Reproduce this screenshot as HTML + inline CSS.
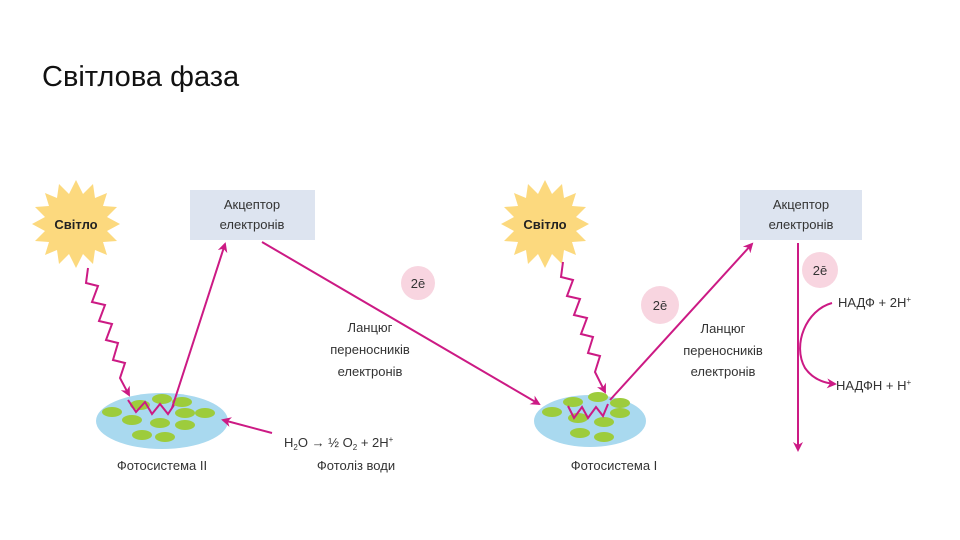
<!DOCTYPE html>
<html><head><meta charset="utf-8"><style>
body{margin:0;width:960px;height:540px;background:#fff;overflow:hidden}
svg{display:block}
text{font-family:"Liberation Sans","DejaVu Sans",sans-serif;fill:#333}
</style></head><body>
<svg width="960" height="540" viewBox="0 0 960 540">
<defs>
<marker id="a" markerWidth="10" markerHeight="10" refX="8" refY="5" orient="auto" markerUnits="userSpaceOnUse"><path d="M0,0 L10,5 L0,10 L3,5 Z" fill="#cc1a84"/></marker>
</defs>
<text x="42" y="86" font-size="29" style="fill:#111">Світлова фаза</text>

<g fill="#fcd97e">
<polygon points="0,-44 7,-30 17,-40 19,-26 31,-31 27,-18 41,-17 31,-7 44,0 31,7 41,17 27,18 31,31 19,26 17,40 7,30 0,44 -7,30 -17,40 -19,26 -31,31 -27,18 -41,17 -31,7 -44,0 -31,-7 -41,-17 -27,-18 -31,-31 -19,-26 -17,-40 -7,-30" transform="translate(76,224)"/>
<polygon points="0,-44 7,-30 17,-40 19,-26 31,-31 27,-18 41,-17 31,-7 44,0 31,7 41,17 27,18 31,31 19,26 17,40 7,30 0,44 -7,30 -17,40 -19,26 -31,31 -27,18 -41,17 -31,7 -44,0 -31,-7 -41,-17 -27,-18 -31,-31 -19,-26 -17,-40 -7,-30" transform="translate(545,224)"/>
</g>
<text x="76" y="229" font-size="13" font-weight="bold" text-anchor="middle" style="fill:#222">Світло</text>
<text x="545" y="229" font-size="13" font-weight="bold" text-anchor="middle" style="fill:#222">Світло</text>

<rect x="190" y="190" width="125" height="50" fill="#dde4f0"/>
<rect x="740" y="190" width="122" height="50" fill="#dde4f0"/>
<g font-size="13" text-anchor="middle">
<text x="252" y="209">Акцептор</text><text x="252" y="229">електронів</text>
<text x="801" y="209">Акцептор</text><text x="801" y="229">електронів</text>
</g>

<ellipse cx="162" cy="421" rx="66" ry="28" fill="#a9d9ef"/>
<ellipse cx="590" cy="421" rx="56" ry="26" fill="#a9d9ef"/>
<g fill="#9dcc3c">
<ellipse cx="140" cy="405" rx="10" ry="5"/><ellipse cx="162" cy="399" rx="10" ry="5"/><ellipse cx="182" cy="402" rx="10" ry="5"/>
<ellipse cx="112" cy="412" rx="10" ry="5"/><ellipse cx="185" cy="413" rx="10" ry="5"/><ellipse cx="205" cy="413" rx="10" ry="5"/>
<ellipse cx="132" cy="420" rx="10" ry="5"/><ellipse cx="160" cy="423" rx="10" ry="5"/><ellipse cx="185" cy="425" rx="10" ry="5"/>
<ellipse cx="142" cy="435" rx="10" ry="5"/><ellipse cx="165" cy="437" rx="10" ry="5"/>
<ellipse cx="573" cy="402" rx="10" ry="5"/><ellipse cx="598" cy="397" rx="10" ry="5"/><ellipse cx="620" cy="403" rx="10" ry="5"/>
<ellipse cx="552" cy="412" rx="10" ry="5"/><ellipse cx="620" cy="413" rx="10" ry="5"/>
<ellipse cx="578" cy="418" rx="10" ry="5"/><ellipse cx="604" cy="422" rx="10" ry="5"/>
<ellipse cx="580" cy="433" rx="10" ry="5"/><ellipse cx="604" cy="437" rx="10" ry="5"/>
</g>

<g stroke="#cc1a84" stroke-width="2" fill="none">
<polyline points="88,268 86,283 98,286 92,302 105,305 99,321 112,324 106,340 118,343 113,360 125,363 120,378 129,395" marker-end="url(#a)"/>
<polyline points="128,400 136,412 145,402 152,414 160,404 168,414 174,405"/>
<line x1="172" y1="408" x2="225" y2="244" marker-end="url(#a)"/>
<line x1="262" y1="242" x2="539" y2="404" marker-end="url(#a)"/>
<line x1="272" y1="433" x2="223" y2="420" marker-end="url(#a)"/>
<polyline points="563,262 561,277 573,280 567,296 580,299 574,315 587,318 581,334 593,337 588,353 600,356 595,372 605,392" marker-end="url(#a)"/>
<polyline points="568,406 574,418 582,407 588,418 596,407 603,416 608,404"/>
<line x1="610" y1="400" x2="752" y2="244" marker-end="url(#a)"/>
<line x1="798" y1="243" x2="798" y2="450" marker-end="url(#a)"/>
<path d="M832,303 C806,310 792,345 805,368 C812,378 822,383 835,384" marker-end="url(#a)"/>
</g>

<g fill="#f8d5e0"><circle cx="418" cy="283" r="17"/><circle cx="660" cy="305" r="19"/><circle cx="820" cy="270" r="18"/></g>
<g font-size="13" text-anchor="middle">
<text x="418" y="288">2ē</text><text x="660" y="310">2ē</text><text x="820" y="275">2ē</text>
<text x="370" y="332">Ланцюг</text><text x="370" y="354">переносників</text><text x="370" y="376">електронів</text>
<text x="723" y="333">Ланцюг</text><text x="723" y="355">переносників</text><text x="723" y="376">електронів</text>
<text x="162" y="470">Фотосистема II</text>
<text x="614" y="470">Фотосистема I</text>
<text x="356" y="470">Фотоліз води</text>
</g>
<text x="284" y="447" font-size="13">H<tspan font-size="8" dy="3">2</tspan><tspan dy="-3">O → ½ O</tspan><tspan font-size="8" dy="3">2</tspan><tspan dy="-3"> + 2H</tspan><tspan font-size="8" dy="-5">+</tspan></text>
<text x="838" y="307" font-size="13">НАДФ + 2H<tspan font-size="8" dy="-5">+</tspan></text>
<text x="836" y="390" font-size="13">НАДФН + H<tspan font-size="8" dy="-5">+</tspan></text>
</svg>
</body></html>
